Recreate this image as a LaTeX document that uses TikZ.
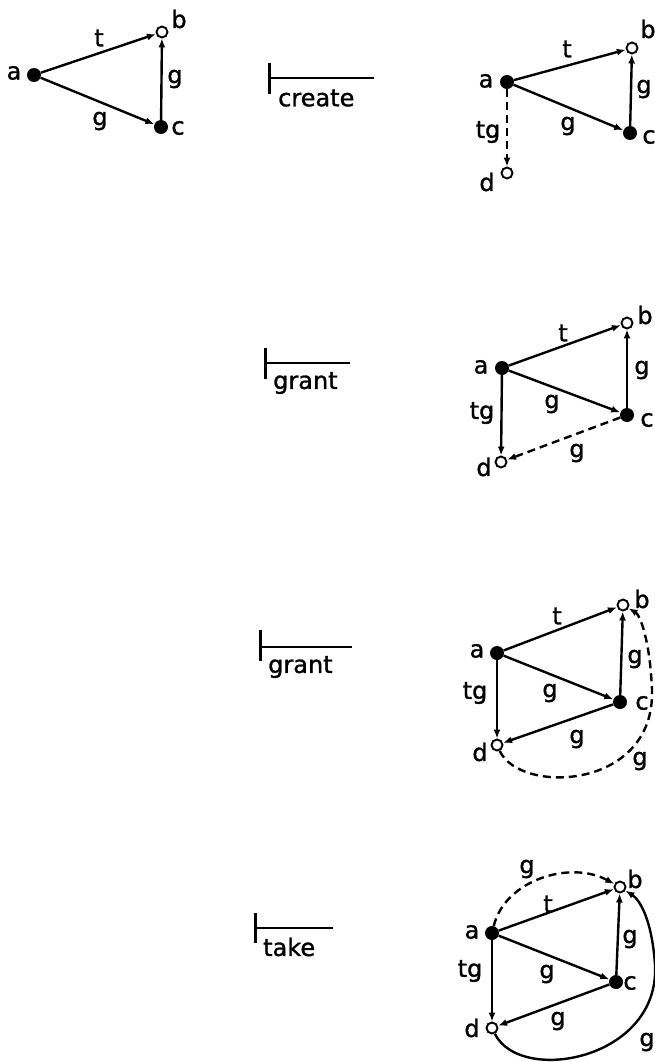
\documentclass[tikz,border=0pt]{standalone}
\usepackage{fontspec}
\setmainfont{DejaVu Sans}
\newfontfamily\lblfont{DejaVu Sans}[BoldFont={DejaVu Sans},BoldFeatures={FakeBold=1.2}]
\usetikzlibrary{arrows.meta}
\begin{document}
\begin{tikzpicture}[x=1pt,y=-1pt,
  full/.style={circle,fill=black,inner sep=0pt,minimum size=14pt},
  open/.style={circle,draw=black,fill=white,line width=1.9pt,inner sep=0pt,minimum size=11pt},
  edge/.style={line width=2.4pt,-{Latex[length=9pt,width=7pt]}},
  dedge/.style={edge,dash pattern=on 8pt off 5pt},
  lbl/.style={font=\lblfont\bfseries\fontsize{24}{24}\selectfont,inner sep=0pt},
  rulebar/.style={line width=3pt},
  ruleline/.style={line width=2.4pt}]
\useasboundingbox (0,0) rectangle (654,1062);

% ---------- panel 1 ----------
\node[full] (a1) at (34,75) {};
\node[open] (b1) at (162,32) {};
\node[full] (c1) at (161,127) {};
\draw[edge] (a1) -- (b1);
\draw[edge] (a1) -- (c1);
\draw[edge] (c1) -- (b1);
\node[lbl] (la1) at (14,73) {a};
\node[lbl] (lb1) at (179,19) {b};
\node[lbl] (lc1) at (178,128) {c};
\node[lbl] (lt1) at (99,38) {t};
\node[lbl] (lg1a) at (175,79) {g};
\node[lbl] (lg1b) at (100,121) {g};

% ---------- rule: create ----------
\coordinate (r1t) at (269,63);
\coordinate (r1b) at (269,94);
\coordinate (r1m) at (269,78);
\coordinate (r1e) at (374,78);
\draw[rulebar] (r1t) -- (r1b);
\draw[ruleline] (r1m) -- (r1e);
\node[lbl,anchor=west] (rc) at (278,98) {create};

% ---------- panel 2 ----------
\node[full] (a2) at (507,82) {};
\node[open] (b2) at (632,48) {};
\node[full] (c2) at (630,133) {};
\node[open] (d2) at (507,173) {};
\draw[edge] (a2) -- (b2);
\draw[edge] (a2) -- (c2);
\draw[edge] (c2) -- (b2);
\draw[dedge] (a2) -- (d2);
\node[lbl] (la2) at (486,81) {a};
\node[lbl] (lb2) at (648,29) {b};
\node[lbl] (lc2) at (649,137) {c};
\node[lbl] (ld2) at (487,182) {d};
\node[lbl] (lt2) at (567,49) {t};
\node[lbl] (lg2a) at (644,89) {g};
\node[lbl] (lg2b) at (568,126) {g};
\node[lbl] (ltg2) at (488,132) {tg};

% ---------- rule: grant ----------
\coordinate (r2t) at (265,348);
\coordinate (r2b) at (265,379);
\coordinate (r2m) at (265,363);
\coordinate (r2e) at (350,363);
\draw[rulebar] (r2t) -- (r2b);
\draw[ruleline] (r2m) -- (r2e);
\node[lbl,anchor=west] (rg1) at (273,383) {grant};

% ---------- panel 3 ----------
\node[full] (a3) at (502,368) {};
\node[open] (b3) at (627,323) {};
\node[full] (c3) at (627,415) {};
\node[open] (d3) at (501,462) {};
\draw[edge] (a3) -- (b3);
\draw[edge] (a3) -- (c3);
\draw[edge] (c3) -- (b3);
\draw[edge] (a3) -- (d3);
\draw[dedge] (c3) -- (d3);
\node[lbl] (la3) at (481,367) {a};
\node[lbl] (lb3) at (645,315) {b};
\node[lbl] (lc3) at (647,420) {c};
\node[lbl] (ld3) at (484,467) {d};
\node[lbl] (lt3) at (563,333) {t};
\node[lbl] (lg3a) at (642,370) {g};
\node[lbl] (lg3b) at (552,404) {g};
\node[lbl] (ltg3) at (482,413) {tg};
\node[lbl] (lg3c) at (577,453) {g};

% ---------- rule: grant ----------
\coordinate (r3t) at (260,630);
\coordinate (r3b) at (260,661);
\coordinate (r3m) at (260,647);
\coordinate (r3e) at (352,647);
\draw[rulebar] (r3t) -- (r3b);
\draw[ruleline] (r3m) -- (r3e);
\node[lbl,anchor=west] (rg2) at (268,667) {grant};

% ---------- panel 4 ----------
\node[full] (a4) at (497,653) {};
\node[open] (b4) at (623,605) {};
\node[full] (c4) at (620,702) {};
\node[open] (d4) at (497,745) {};
\draw[edge] (a4) -- (b4);
\draw[edge] (a4) -- (c4);
\draw[edge] (c4) -- (b4);
\draw[edge] (a4) -- (d4);
\draw[edge] (c4) -- (d4);
\draw[dedge] (d4) .. controls (520,795) and (655,790) .. (652,690)
  .. controls (650,640) and (640,615) .. (b4);
\node[lbl] (la4) at (477,651) {a};
\node[lbl] (lb4) at (642,599) {b};
\node[lbl] (lc4) at (642,703) {c};
\node[lbl] (ld4) at (480,752) {d};
\node[lbl] (lt4) at (557,616) {t};
\node[lbl] (lg4a) at (635,659) {g};
\node[lbl] (lg4b) at (550,693) {g};
\node[lbl] (ltg4) at (475,693) {tg};
\node[lbl] (lg4c) at (577,739) {g};
\node[lbl] (lg4d) at (640,761) {g};

% ---------- rule: take ----------
\coordinate (r4t) at (255,913);
\coordinate (r4b) at (255,943);
\coordinate (r4m) at (255,928);
\coordinate (r4e) at (333,928);
\draw[rulebar] (r4t) -- (r4b);
\draw[ruleline] (r4m) -- (r4e);
\node[lbl,anchor=west] (rt) at (263,947) {take};

% ---------- panel 5 ----------
\node[full] (a5) at (492,933) {};
\node[open] (b5) at (620,887) {};
\node[full] (c5) at (616,982) {};
\node[open] (d5) at (492,1028) {};
\draw[edge] (a5) -- (b5);
\draw[edge] (a5) -- (c5);
\draw[edge] (c5) -- (b5);
\draw[edge] (a5) -- (d5);
\draw[edge] (c5) -- (d5);
\draw[edge] (d5) .. controls (520,1085) and (660,1060) .. (655,965)
  .. controls (652,920) and (640,900) .. (b5);
\draw[dedge] (a5) .. controls (505,880) and (570,860) .. (b5);
\node[lbl] (la5) at (472,932) {a};
\node[lbl] (lb5) at (635,879) {b};
\node[lbl] (lc5) at (630,983) {c};
\node[lbl] (ld5) at (472,1028) {d};
\node[lbl] (lg5t) at (527,869) {g};
\node[lbl] (lt5) at (548,904) {t};
\node[lbl] (lg5a) at (630,939) {g};
\node[lbl] (lg5b) at (547,974) {g};
\node[lbl] (ltg5) at (470,971) {tg};
\node[lbl] (lg5c) at (558,1021) {g};
\node[lbl] (lg5d) at (647,1042) {g};
\end{tikzpicture}
\end{document}
